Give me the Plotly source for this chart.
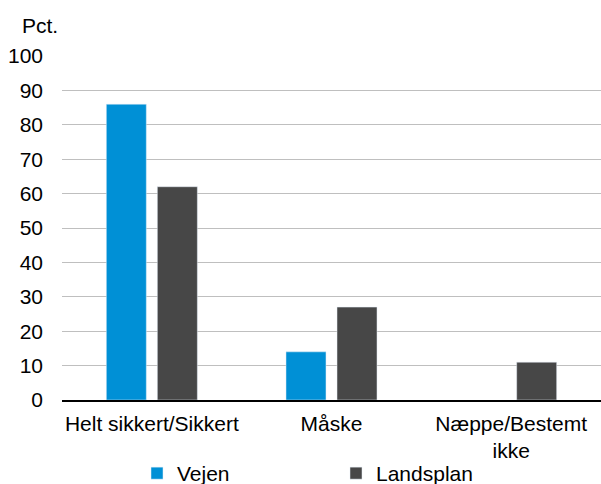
import plotly.graph_objects as go

categories = ["Helt sikkert/Sikkert", "Måske", "Næppe/Bestemt<br>ikke"]
vejen = [86, 14, None]
landsplan = [62, 27, 11]
yticks = [0, 10, 20, 30, 40, 50, 60, 70, 80, 90, 100]

fig = go.Figure()
fig.add_trace(go.Bar(name="Vejen", x=categories, y=vejen, marker_color="#0090D6"))
fig.add_trace(go.Bar(name="Landsplan", x=categories, y=landsplan, marker_color="#474747"))

W, H = 601, 484
L, R, T, B = 62, 0, 56, 84
PW, PH = W - L - R, H - T - B
FS = 21
fig.update_layout(
    width=W, height=H,
    margin=dict(l=L, r=R, t=T, b=B, autoexpand=False),
    paper_bgcolor="white", plot_bgcolor="white",
    font=dict(family="Liberation Sans, Arial, sans-serif", size=FS, color="#000000"),
    barmode="group", bargap=0.432, bargroupgap=0.216,
    showlegend=True,
    legend=dict(orientation="h", x=(137 - L) / PW, xanchor="left", y=(400 - 453) / PH, yanchor="top",
                entrywidth=154, entrywidthmode="pixels", font=dict(size=FS),
                itemwidth=30, tracegroupgap=0, bgcolor="rgba(0,0,0,0)"),
)
fig.update_xaxes(showgrid=False, showline=True, linecolor="#000000", linewidth=1.5,
                 ticks="", tickfont=dict(size=FS), ticklabelstandoff=4, automargin=False)
fig.update_yaxes(range=[0, 100], tickvals=yticks, showgrid=True, gridcolor="#BFBFBF",
                 gridwidth=1, zeroline=False, showline=False, ticks="",
                 ticklabelstandoff=18, tickfont=dict(size=FS), automargin=False)
fig.add_annotation(text="Pct.", xref="paper", yref="paper",
                   x=(20 - L) / PW, y=1 + (56 - 25) / PH,
                   xanchor="left", yanchor="middle", showarrow=False, font=dict(size=FS))
fig.write_html("out.html", config={"displayModeBar": False},
               post_script="document.body.style.margin='0';document.body.style.overflow='hidden';")
